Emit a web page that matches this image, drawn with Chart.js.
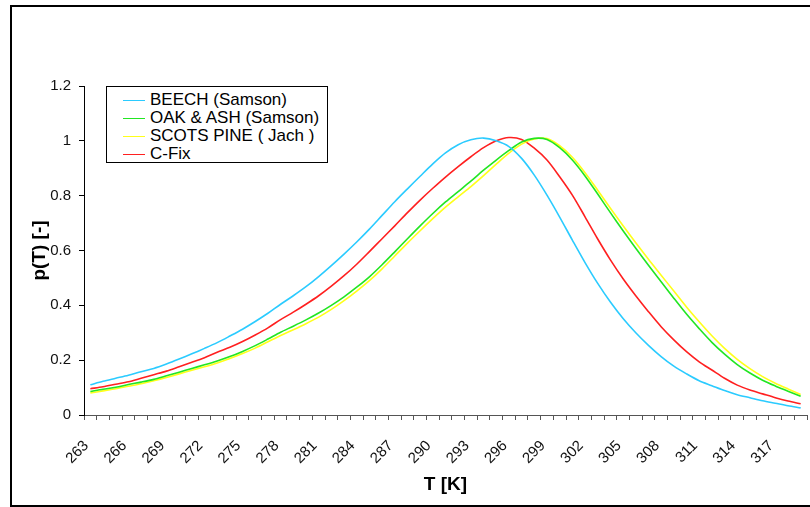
<!DOCTYPE html>
<html>
<head>
<meta charset="utf-8">
<script src="https://cdn.jsdelivr.net/npm/chart.js@4/dist/chart.umd.min.js"></script>
<style>
  html, body { margin: 0; padding: 0; background: #fff; overflow: hidden; }
  #wrap { position: relative; width: 810px; height: 507px; }
  #frame { position: absolute; left: 10px; top: 5px; width: 830px; height: 498px; border: 2px solid #000; }
  #chart { position: absolute; left: 0; top: 0; }
  #legend {
    position: absolute; left: 106px; top: 86px; width: 222px; height: 77px;
    border: 1px solid #000; background: #fff; box-sizing: border-box;
    padding-top: 4px; font: 17px "Liberation Sans", Arial, sans-serif; color: #000;
  }
  #legend .row { height: 18px; line-height: 18px; position: relative; white-space: nowrap; }
  #legend .swatch { position: absolute; left: 16px; top: 9px; width: 22px; height: 0; border-top: 1.5px solid; }
  #legend .txt { position: absolute; left: 43px; top: 0; }
</style>
</head>
<body>
<div id="wrap">
  <div id="frame"></div>
  <canvas id="chart" width="810" height="507"></canvas>
  <div id="legend"></div>
</div>
<script>
// temperature axis, 1 K steps
const temps = [];
for (let t = 263; t <= 319; t++) temps.push(String(t));

const seriesNames = ['BEECH (Samson)', 'OAK & ASH (Samson)', 'SCOTS PINE ( Jach )', 'C-Fix'];
const seriesColors = ['#2bcbff', '#22e622', '#ffff1a', '#ff2020'];

const beech = [
  0.110, 0.123, 0.134, 0.145, 0.158, 0.170, 0.186, 0.204, 0.223, 0.243, 0.264, 0.288,
  0.313, 0.341, 0.371, 0.404, 0.435, 0.468, 0.505, 0.545, 0.587, 0.631, 0.678, 0.728,
  0.778, 0.825, 0.871, 0.916, 0.956, 0.986, 1.004, 1.010, 1.000, 0.979, 0.936, 0.875,
  0.802, 0.722, 0.638, 0.556, 0.480, 0.412, 0.352, 0.300, 0.254, 0.213, 0.178, 0.150,
  0.125, 0.107, 0.089, 0.074, 0.063, 0.052, 0.043, 0.034, 0.026
];
const oakAsh = [
  0.086, 0.094, 0.101, 0.111, 0.120, 0.130, 0.143, 0.156, 0.170, 0.183, 0.197, 0.213,
  0.232, 0.253, 0.277, 0.302, 0.324, 0.347, 0.372, 0.400, 0.431, 0.466, 0.504, 0.548,
  0.595, 0.643, 0.690, 0.735, 0.777, 0.815, 0.853, 0.893, 0.930, 0.965, 0.996, 1.009,
  1.005, 0.975, 0.930, 0.872, 0.806, 0.738, 0.672, 0.608, 0.546, 0.486, 0.426, 0.368,
  0.315, 0.265, 0.222, 0.184, 0.153, 0.127, 0.106, 0.087, 0.068
];
const scotsPine = [
  0.080, 0.088, 0.096, 0.105, 0.114, 0.125, 0.137, 0.150, 0.163, 0.176, 0.190, 0.206,
  0.224, 0.244, 0.267, 0.290, 0.311, 0.333, 0.357, 0.385, 0.417, 0.452, 0.490, 0.533,
  0.580, 0.627, 0.672, 0.716, 0.758, 0.796, 0.833, 0.873, 0.915, 0.955, 0.988, 1.007,
  1.008, 0.982, 0.940, 0.884, 0.820, 0.754, 0.690, 0.628, 0.568, 0.510, 0.452, 0.394,
  0.340, 0.289, 0.243, 0.203, 0.169, 0.140, 0.116, 0.095, 0.075
];
const cFix = [
  0.096, 0.103, 0.112, 0.121, 0.134, 0.147, 0.160, 0.176, 0.192, 0.209, 0.229, 0.247,
  0.268, 0.292, 0.318, 0.348, 0.375, 0.404, 0.435, 0.470, 0.508, 0.550, 0.596, 0.643,
  0.690, 0.738, 0.784, 0.827, 0.868, 0.906, 0.942, 0.975, 1.000, 1.012, 1.005, 0.973,
  0.930, 0.869, 0.802, 0.723, 0.642, 0.566, 0.497, 0.435, 0.377, 0.322, 0.274, 0.231,
  0.194, 0.164, 0.134, 0.109, 0.091, 0.077, 0.063, 0.051, 0.041
];
const yTicks = [0, 0.2, 0.4, 0.6, 0.8, 1, 1.2];

const FONT = '"Liberation Sans", Arial, sans-serif';
const allSeries = [beech, oakAsh, scotsPine, cFix];

const datasets = allSeries.map((data, i) => ({
  label: seriesNames[i],
  data: data,
  borderColor: seriesColors[i],
  borderWidth: 1.6,
  pointRadius: 0,
  tension: 0.3,
  fill: false
}));

new Chart(document.getElementById('chart'), {
  type: 'line',
  data: { labels: temps, datasets },
  options: {
    responsive: false,
    animation: false,
    layout: { padding: { left: 0, top: 86, right: 3, bottom: 0 } },
    plugins: { legend: { display: false }, tooltip: { enabled: false } },
    scales: {
      x: {
        offset: true,
        grid: { offset: true, drawOnChartArea: false, tickLength: 5, color: '#555' },
        border: { color: '#555', width: 1 },
        ticks: {
          autoSkip: false,
          minRotation: 45,
          maxRotation: 45,
          padding: 17,
          labelOffset: -4,
          color: '#111',
          font: { family: FONT, size: 15 },
          callback: (v, i) => (i % 3 === 0 ? temps[i] : '')
        },
        title: {
          display: true, text: 'T [K]', color: '#000',
          font: { family: FONT, size: 19, weight: 'bold' },
          padding: { top: 0, bottom: 11 }
        },
        // rotated labels must not shrink the plot area sideways
        afterFit: s => { s.height = 92; s.paddingLeft = 0; s.paddingRight = 0; }
      },
      y: {
        min: 0,
        max: 1.2,
        grid: { drawOnChartArea: false, tickLength: 5, color: '#000' },
        border: { color: '#000', width: 1 },
        afterBuildTicks: s => { s.ticks = yTicks.map(v => ({ value: v })); },
        ticks: {
          padding: 8,
          color: '#111',
          font: { family: FONT, size: 15 },
          callback: v => String(+v.toFixed(1))
        },
        title: {
          display: true, text: 'p(T) [-]', color: '#000',
          font: { family: FONT, size: 19, weight: 'bold' },
          padding: { top: 28, bottom: 0 }
        },
        afterFit: s => { s.width = 84; }
      }
    }
  }
});

// legend box drawn over the plot
const legend = document.getElementById('legend');
seriesNames.forEach((name, i) => {
  const row = document.createElement('div');
  row.className = 'row';
  row.innerHTML = '<span class="swatch" style="border-color:' + seriesColors[i] + '"></span><span class="txt"></span>';
  row.querySelector('.txt').textContent = name;
  legend.appendChild(row);
});
</script>
</body>
</html>
